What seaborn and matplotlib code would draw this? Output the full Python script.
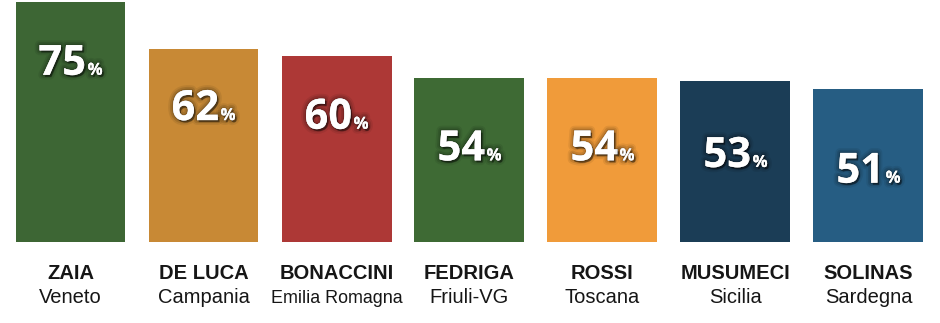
import matplotlib
matplotlib.use("Agg")
import matplotlib.pyplot as plt
import matplotlib.patheffects as pe
from matplotlib.offsetbox import TextArea, HPacker, AnnotationBbox
import seaborn as sns
import pandas as pd
import numpy as np

# ---- data ----
names = ["ZAIA", "DE LUCA", "BONACCINI", "FEDRIGA", "ROSSI", "MUSUMECI", "SOLINAS"]
regions = ["Veneto", "Campania", "Emilia Romagna", "Friuli-VG", "Toscana", "Sicilia", "Sardegna"]
values = [75, 62, 60, 54, 54, 53, 51]
colors = ["#3d6634", "#c88935", "#ad3836", "#3e6a34", "#f09b3a", "#1b3d56", "#265d83"]

df = pd.DataFrame({"name": names, "region": regions, "value": values})

sns.set_theme(style="white")
plt.rcParams["font.family"] = ["Liberation Sans", "DejaVu Sans"]

W, H = 940, 323
fig = plt.figure(figsize=(W / 100, H / 100), dpi=100)
fig.patch.set_facecolor("white")
bottom_px = 242
ax = fig.add_axes([0, (H - bottom_px) / H, 1, bottom_px / H])

sns.barplot(data=df, x="name", y="value", hue="name", palette=colors,
            legend=False, width=110 / 133, saturation=1, ax=ax, linewidth=0)

base = 8.4
ax.set_ylim(base, 75.6)
ax.set_xlim(-70.5 / 133, (W - 70.5) / 133)
ax.axis("off")

shadow = [
    pe.Stroke(linewidth=7, foreground=(0, 0, 0, 0.07)),
    pe.Stroke(linewidth=4.5, foreground=(0, 0, 0, 0.11)),
    pe.SimplePatchShadow(offset=(1.2, -1.5), shadow_rgbFace="black", alpha=0.45),
    pe.Stroke(linewidth=2, foreground=(0, 0, 0, 0.14)),
    pe.Normal(),
]

for i, (v, nm, rg) in enumerate(zip(values, names, regions)):
    # value label sits lower inside shorter bars
    ly = 12.8 + 8.65 * np.sqrt(v - 48)
    digits = TextArea(f"{v}", textprops=dict(family=["Open Sans", "DejaVu Sans"], fontweight="bold",
                                               fontsize=30, color="white", path_effects=shadow))
    pct = TextArea("%", textprops=dict(family=["Open Sans", "DejaVu Sans"], fontweight="bold",
                                         fontsize=12, color="white", path_effects=shadow))
    box = HPacker(children=[digits, pct], align="baseline", pad=0, sep=1)
    ab = AnnotationBbox(box, (i, ly), xycoords="data", frameon=False,
                        box_alignment=(0.5, 0.5), pad=0)
    ax.add_artist(ab)

    ax.annotate(nm, xy=(i, 0), xycoords=("data", "axes fraction"),
                xytext=(0, -(279 - bottom_px) * 0.72), textcoords="offset points",
                ha="center", va="baseline", fontsize=14.5, fontweight="bold",
                color="#161616", annotation_clip=False)
    ax.annotate(rg, xy=(i, 0), xycoords=("data", "axes fraction"),
                xytext=(0, -(303 - bottom_px) * 0.72), textcoords="offset points",
                ha="center", va="baseline", fontsize=14.5,
                color="#161616", annotation_clip=False)

# shrink labels that are wider than their slot
fig.canvas.draw()
r = fig.canvas.get_renderer()
for t in ax.texts:
    bb = t.get_window_extent(r)
    if bb.width > 131:
        t.set_fontsize(t.get_fontsize() * 131 / bb.width)

fig.savefig("out.png", dpi=100, facecolor="white")
